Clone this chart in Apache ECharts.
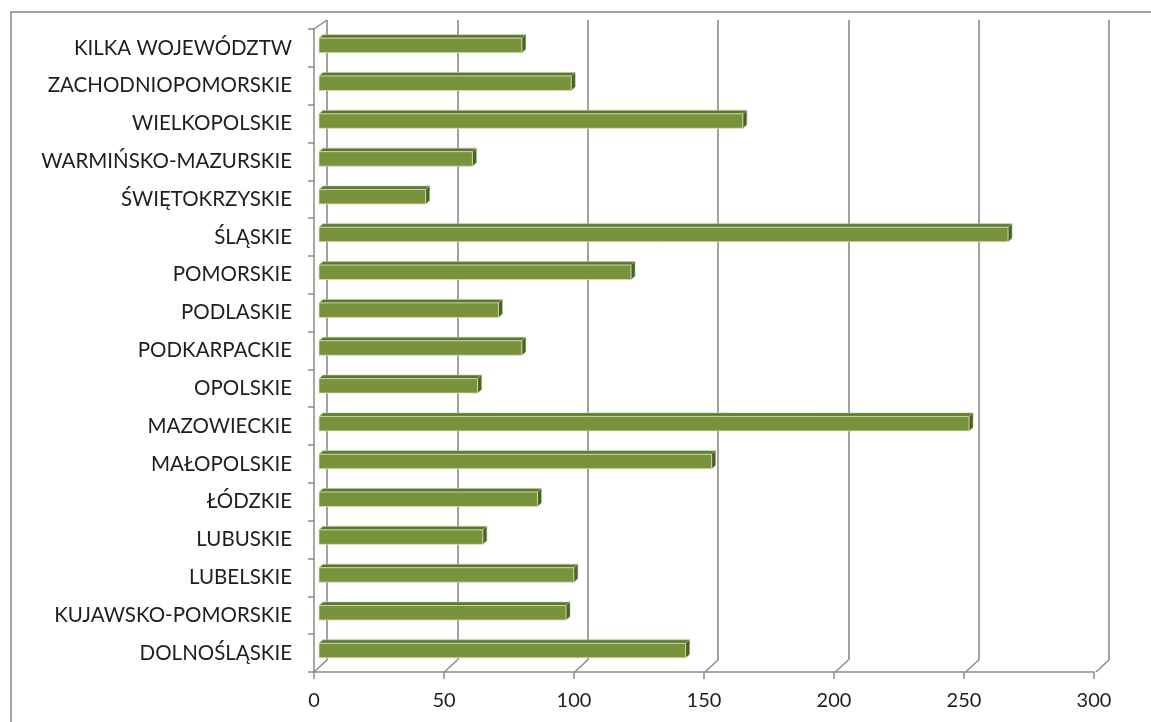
<!DOCTYPE html>
<html>
<head>
<meta charset="utf-8">
<script src="https://cdn.jsdelivr.net/npm/echarts@6/dist/echarts.min.js"></script>
<style>
html,body{margin:0;padding:0;background:#fff;}
#chart{width:1151px;height:722px;}
</style>
</head>
<body>
<div id="chart"></div>
<script>
const categories = ["KILKA WOJEWÓDZTW","ZACHODNIOPOMORSKIE","WIELKOPOLSKIE","WARMIŃSKO-MAZURSKIE","ŚWIĘTOKRZYSKIE","ŚLĄSKIE","POMORSKIE","PODLASKIE","PODKARPACKIE","OPOLSKIE","MAZOWIECKIE","MAŁOPOLSKIE","ŁÓDZKIE","LUBUSKIE","LUBELSKIE","KUJAWSKO-POMORSKIE","DOLNOŚLĄSKIE"];
const values = [78, 97, 163, 59, 41, 265, 120, 69, 78, 61, 250, 151, 84, 63, 98, 95, 141];
const xTicks = [0, 50, 100, 150, 200, 250, 300];

const GRAY = '#8a8a8a';
const chart = echarts.init(document.getElementById('chart'));

const barData = categories.map((c, i) => [values[i], i]);

function renderBar(params, api) {
  const v = api.value(0), i = api.value(1);
  const p0 = api.coord([0, i]);
  const p1 = api.coord([v, i]);
  const x0 = p0[0] + 5, x1 = p1[0] + 5;
  const yc = p0[1] - 2.5, h = 14.5;
  const yt = yc - h / 2, yb = yc + h / 2;
  const dx = 4, dy = -3.5;
  return {
    type: 'group',
    children: [
      { type: 'polygon', shape: { points: [[x0, yt], [x1, yt], [x1 + dx, yt + dy], [x0 + dx, yt + dy]] },
        style: { fill: '#5e7730', stroke: '#b9cc8e', lineWidth: 0.6 } },
      { type: 'polygon', shape: { points: [[x1, yt], [x1 + dx, yt + dy], [x1 + dx, yb + dy], [x1, yb]] },
        style: { fill: '#4c6124', stroke: '#9fb576', lineWidth: 0.5 } },
      { type: 'rect', shape: { x: x0, y: yt, width: x1 - x0, height: h },
        style: { fill: '#78933c', stroke: '#d3e0b6', lineWidth: 0.8 } }
    ]
  };
}

function renderDiag(params, api) {
  const v = api.value(0);
  const pb = api.coord([v, 0]);
  const children = [{ type: 'line', shape: { x1: pb[0], y1: pb[1], x2: pb[0] - 13, y2: pb[1] + 12 },
    style: { stroke: GRAY, lineWidth: 1.5 } }];
  if (v === 0) {
    const pt = api.coord([v, 1]);
    children.push({ type: 'line', shape: { x1: pt[0], y1: pt[1], x2: pt[0] - 13, y2: pt[1] + 9 },
      style: { stroke: GRAY, lineWidth: 1.5 } });
  }
  return { type: 'group', children };
}

chart.setOption({
  animation: false,
  backgroundColor: '#ffffff',
  graphic: [{
    type: 'rect', shape: { x: 11, y: 12, width: 1200, height: 800 },
    style: { fill: 'none', stroke: '#868686', lineWidth: 1.5 }, silent: true
  }],
  grid: [
    { left: 314, top: 29, width: 780, bottom: 50, containLabel: false },
    { left: 327, top: 20, width: 782, bottom: 62, containLabel: false }
  ],
  xAxis: [
    { gridIndex: 0, type: 'value', min: 0, max: 300, interval: 50,
      axisLine: { show: true, lineStyle: { color: GRAY, width: 1.5 } },
      axisTick: { show: true, length: 7, lineStyle: { color: GRAY, width: 1.5 } },
      axisLabel: { margin: 19, fontSize: 20, color: '#1e1e1e', fontFamily: 'Lato' },
      splitLine: { show: false } },
    { gridIndex: 1, type: 'value', min: 0, max: 300, interval: 50,
      axisLine: { show: false }, axisTick: { show: false }, axisLabel: { show: false },
      splitLine: { show: true, lineStyle: { color: GRAY, width: 1.6 } } }
  ],
  yAxis: [
    { gridIndex: 0, type: 'category', data: categories, inverse: true,
      axisLine: { show: true, lineStyle: { color: GRAY, width: 1.5 } },
      axisTick: { show: true, length: 6, lineStyle: { color: GRAY, width: 1.5 } },
      axisLabel: { margin: 22, fontSize: 20.5, color: '#1e1e1e', fontFamily: 'Lato' },
      splitLine: { show: false } },
    { gridIndex: 1, type: 'value', min: 0, max: 1, show: false, splitLine: { show: false } }
  ],
  series: [
    { type: 'custom', xAxisIndex: 1, yAxisIndex: 1, renderItem: renderDiag,
      data: xTicks.map(t => [t]), z: 1, silent: true },
    { type: 'custom', xAxisIndex: 0, yAxisIndex: 0, renderItem: renderBar,
      data: barData, encode: { x: 0, y: 1 }, z: 3 }
  ]
});
</script>
</body>
</html>
